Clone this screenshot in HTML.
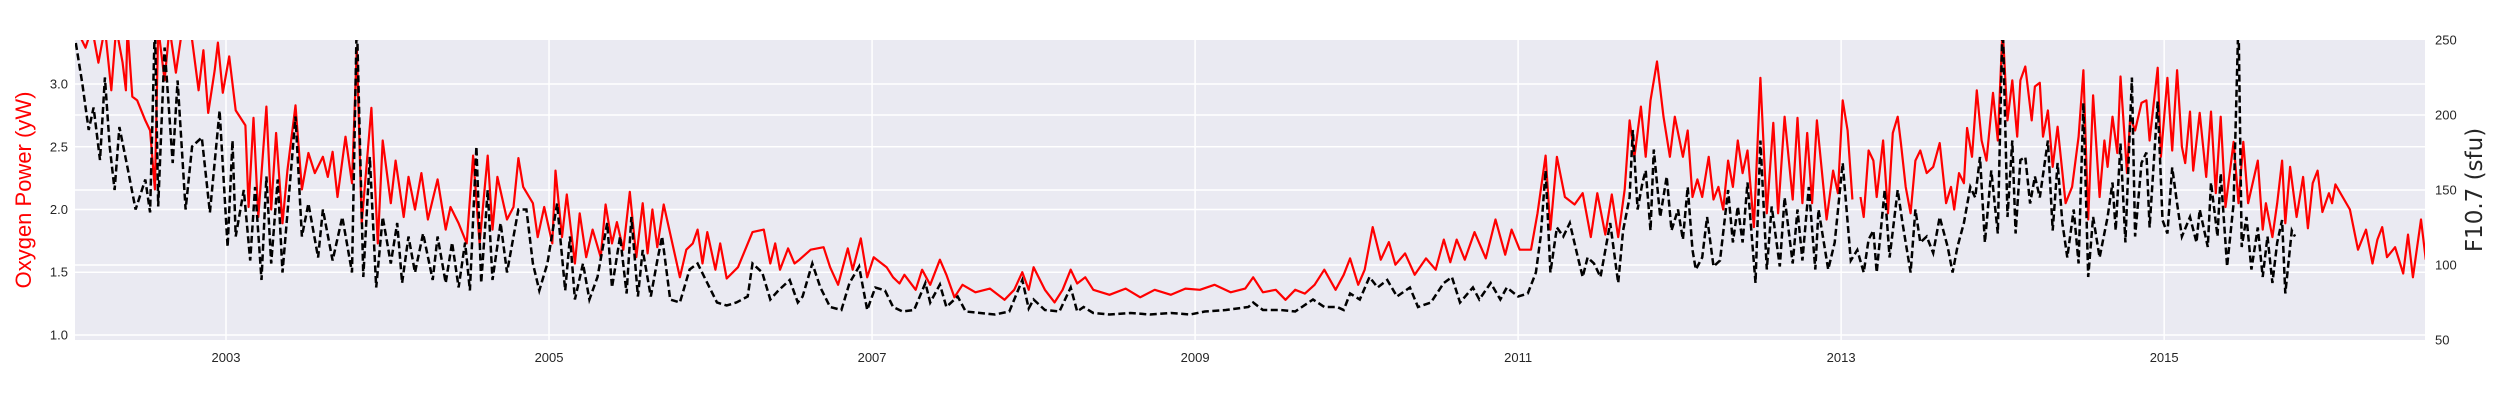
<!DOCTYPE html>
<html>
<head>
<meta charset="utf-8">
<style>
  html,body{margin:0;padding:0;background:#fff;}
  svg{display:block;}
  text{font-family:"Liberation Sans",Arial,sans-serif;}
</style>
</head>
<body>
<svg id="chart" width="2500" height="400" viewBox="0 0 2500 400" xmlns="http://www.w3.org/2000/svg">
  <defs>
    <clipPath id="plotClip"><rect x="75" y="40" width="2350" height="300"/></clipPath>
  </defs>
  <rect x="75" y="40" width="2350" height="300" fill="#eaeaf2"/>
  <g id="grid"></g>
  <g id="series" clip-path="url(#plotClip)"></g>
  <g id="axes"></g>
  <text x="0" y="0" transform="translate(31,190) rotate(-90)" text-anchor="middle" font-size="22" fill="#ff0000">Oxygen Power (yW)</text>
  <text x="0" y="0" transform="translate(2482,190) rotate(-90)" text-anchor="middle" font-size="23" fill="#262626" style="font-family:'DejaVu Sans',sans-serif">F10.7 (sfu)</text>
</svg>
<script>
// ---- data ----
const xTickYears = [2003, 2005, 2007, 2009, 2011, 2013, 2015];
const leftTicks = [1.0, 1.5, 2.0, 2.5, 3.0];
const leftTickLabels = ["1.0", "1.5", "2.0", "2.5", "3.0"];
const rightTicks = [50, 100, 150, 200, 250];
const rightTickLabels = ["50", "100", "150", "200", "250"];

const oxygenDates = [2002.07,2002.13,2002.17,2002.21,2002.25,2002.29,2002.32,2002.36,2002.38,2002.39,2002.42,2002.45,2002.50,2002.53,2002.56,2002.58,2002.62,2002.65,2002.69,2002.73,2002.78,2002.83,2002.86,2002.89,2002.93,2002.95,2002.98,2003.02,2003.06,2003.12,2003.14,2003.17,2003.20,2003.25,2003.28,2003.31,2003.35,2003.38,2003.43,2003.47,2003.51,2003.55,2003.60,2003.63,2003.66,2003.69,2003.74,2003.78,2003.81,2003.84,2003.90,2003.94,2003.97,2004.02,2004.05,2004.10,2004.13,2004.17,2004.21,2004.25,2004.31,2004.36,2004.39,2004.44,2004.49,2004.53,2004.57,2004.62,2004.65,2004.68,2004.74,2004.78,2004.81,2004.84,2004.90,2004.93,2004.97,2005.02,2005.04,2005.08,2005.11,2005.16,2005.19,2005.23,2005.27,2005.32,2005.35,2005.39,2005.42,2005.46,2005.50,2005.54,2005.58,2005.61,2005.64,2005.67,2005.71,2005.81,2005.85,2005.89,2005.92,2005.95,2005.98,2006.03,2006.06,2006.10,2006.17,2006.26,2006.33,2006.37,2006.40,2006.43,2006.48,2006.52,2006.55,2006.62,2006.70,2006.74,2006.79,2006.85,2006.88,2006.93,2006.97,2007.01,2007.09,2007.13,2007.17,2007.20,2007.27,2007.31,2007.36,2007.42,2007.46,2007.51,2007.56,2007.64,2007.73,2007.82,2007.88,2007.93,2007.97,2008.00,2008.07,2008.13,2008.18,2008.23,2008.27,2008.32,2008.37,2008.47,2008.57,2008.66,2008.75,2008.85,2008.94,2009.03,2009.12,2009.22,2009.31,2009.36,2009.42,2009.50,2009.56,2009.62,2009.68,2009.74,2009.80,2009.87,2009.92,2009.96,2010.01,2010.05,2010.10,2010.15,2010.20,2010.24,2010.30,2010.36,2010.43,2010.49,2010.54,2010.58,2010.62,2010.67,2010.73,2010.80,2010.86,2010.92,2010.96,2011.01,2011.08,2011.12,2011.17,2011.20,2011.24,2011.29,2011.35,2011.40,2011.45,2011.49,2011.54,2011.58,2011.62,2011.66,2011.69,2011.72,2011.76,2011.79,2011.82,2011.86,2011.90,2011.94,2011.97,2012.02,2012.05,2012.08,2012.11,2012.14,2012.18,2012.21,2012.24,2012.27,2012.30,2012.33,2012.36,2012.39,2012.42,2012.46,2012.50,2012.54,2012.58,2012.61,2012.65,2012.70,2012.73,2012.76,2012.79,2012.82,2012.85,2012.91,2012.95,2012.98,2013.01,2013.04,2013.07,2013.095,2013.12,2013.14,2013.17,2013.20,2013.22,2013.26,2013.29,2013.32,2013.35,2013.37,2013.40,2013.43,2013.46,2013.49,2013.53,2013.57,2013.61,2013.65,2013.68,2013.70,2013.73,2013.76,2013.78,2013.81,2013.84,2013.87,2013.90,2013.94,2013.97,2014.00,2014.03,2014.06,2014.09,2014.11,2014.14,2014.18,2014.20,2014.23,2014.25,2014.28,2014.31,2014.34,2014.39,2014.43,2014.47,2014.50,2014.53,2014.56,2014.60,2014.63,2014.65,2014.68,2014.71,2014.73,2014.77,2014.79,2014.82,2014.86,2014.89,2014.91,2014.96,2014.98,2015.02,2015.05,2015.08,2015.11,2015.13,2015.16,2015.18,2015.22,2015.26,2015.29,2015.32,2015.35,2015.38,2015.43,2015.46,2015.49,2015.52,2015.58,2015.61,2015.63,2015.67,2015.70,2015.73,2015.75,2015.78,2015.82,2015.86,2015.89,2015.92,2015.95,2015.98,2016.02,2016.04,2016.06,2016.15,2016.20,2016.25,2016.29,2016.32,2016.35,2016.38,2016.43,2016.48,2016.51,2016.54,2016.59,2016.62];
const oxygenPower = [3.45,3.29,3.45,3.17,3.45,2.95,3.45,3.17,2.95,3.45,2.90,2.87,2.71,2.63,2.16,3.45,3.03,3.45,3.09,3.45,3.45,2.95,3.27,2.77,3.11,3.33,2.93,3.22,2.79,2.67,2.02,2.73,1.94,2.82,2.00,2.61,1.89,2.31,2.83,2.16,2.45,2.29,2.42,2.26,2.46,2.10,2.58,2.21,3.29,1.89,2.81,1.73,2.55,2.05,2.39,1.94,2.26,2.00,2.29,1.92,2.24,1.84,2.02,1.89,1.73,2.43,1.73,2.43,1.84,2.26,1.92,2.02,2.41,2.18,2.05,1.78,2.02,1.73,2.31,1.78,2.12,1.57,1.97,1.62,1.84,1.62,2.04,1.73,1.90,1.68,2.14,1.62,2.05,1.65,2.00,1.70,2.04,1.46,1.68,1.73,1.84,1.57,1.82,1.52,1.73,1.45,1.54,1.82,1.84,1.57,1.73,1.52,1.69,1.57,1.60,1.68,1.70,1.54,1.40,1.69,1.52,1.77,1.46,1.62,1.54,1.46,1.41,1.48,1.36,1.52,1.40,1.60,1.48,1.30,1.40,1.34,1.37,1.28,1.36,1.50,1.36,1.54,1.36,1.26,1.36,1.52,1.41,1.46,1.36,1.32,1.37,1.30,1.36,1.32,1.37,1.36,1.40,1.34,1.37,1.46,1.34,1.36,1.28,1.36,1.33,1.40,1.52,1.36,1.48,1.61,1.40,1.52,1.86,1.60,1.74,1.56,1.65,1.48,1.61,1.52,1.76,1.58,1.76,1.60,1.82,1.61,1.92,1.64,1.84,1.68,1.68,1.97,2.43,1.84,2.42,2.10,2.04,2.13,1.78,2.13,1.80,2.12,1.78,2.16,2.71,2.42,2.82,2.42,2.87,3.18,2.74,2.42,2.74,2.42,2.63,2.10,2.24,2.10,2.42,2.08,2.18,2.00,2.39,2.18,2.55,2.29,2.47,1.86,3.05,1.97,2.69,1.97,2.74,2.08,2.73,2.05,2.61,2.05,2.71,1.92,2.31,2.13,2.87,2.63,2.08,null,2.10,1.94,2.47,2.39,2.10,2.55,1.97,2.61,2.74,2.53,2.18,1.97,2.39,2.47,2.29,2.34,2.53,2.05,2.18,2.00,2.29,2.21,2.65,2.42,2.95,2.55,2.39,2.93,2.55,3.45,2.71,3.03,2.58,3.03,3.14,2.71,2.98,3.01,2.58,2.79,2.34,2.66,2.05,2.18,2.58,3.11,1.92,2.91,2.10,2.55,2.34,2.74,2.45,3.06,2.29,2.74,2.63,2.85,2.87,2.55,3.13,2.42,3.05,2.47,3.11,2.50,2.37,2.78,2.31,2.77,2.26,2.78,2.13,2.74,2.02,2.54,2.05,2.54,2.05,2.39,1.84,2.05,1.78,2.05,2.39,1.89,2.34,1.94,2.26,1.85,2.21,2.31,1.98,2.13,2.05,2.20,2.00,1.68,1.84,1.57,1.76,1.86,1.62,1.70,1.49,1.80,1.46,1.92,1.60];

const f107Dates = [2002.07,2002.11,2002.15,2002.18,2002.22,2002.25,2002.28,2002.31,2002.34,2002.39,2002.44,2002.50,2002.53,2002.56,2002.58,2002.62,2002.67,2002.70,2002.75,2002.79,2002.85,2002.90,2002.96,2003.01,2003.04,2003.06,2003.11,2003.15,2003.18,2003.22,2003.25,2003.28,2003.32,2003.35,2003.43,2003.47,2003.51,2003.57,2003.60,2003.66,2003.72,2003.78,2003.81,2003.85,2003.89,2003.93,2003.97,2004.02,2004.06,2004.09,2004.13,2004.17,2004.22,2004.28,2004.31,2004.36,2004.40,2004.44,2004.48,2004.51,2004.55,2004.58,2004.62,2004.65,2004.70,2004.74,2004.81,2004.86,2004.90,2004.94,2004.99,2005.05,2005.10,2005.13,2005.16,2005.21,2005.25,2005.30,2005.36,2005.39,2005.44,2005.48,2005.51,2005.55,2005.58,2005.63,2005.67,2005.70,2005.75,2005.81,2005.87,2005.92,2005.98,2006.04,2006.10,2006.16,2006.23,2006.26,2006.32,2006.37,2006.42,2006.49,2006.54,2006.57,2006.63,2006.68,2006.74,2006.81,2006.86,2006.92,2006.97,2007.02,2007.08,2007.13,2007.19,2007.26,2007.33,2007.36,2007.42,2007.46,2007.53,2007.58,2007.67,2007.76,2007.85,2007.93,2007.97,2008.00,2008.07,2008.16,2008.23,2008.27,2008.31,2008.37,2008.47,2008.60,2008.72,2008.85,2008.97,2009.06,2009.19,2009.33,2009.36,2009.42,2009.53,2009.62,2009.73,2009.80,2009.88,2009.92,2009.96,2010.02,2010.08,2010.13,2010.19,2010.25,2010.33,2010.38,2010.46,2010.54,2010.59,2010.64,2010.72,2010.76,2010.83,2010.89,2010.93,2011.00,2011.06,2011.11,2011.14,2011.17,2011.20,2011.24,2011.28,2011.32,2011.37,2011.40,2011.43,2011.47,2011.51,2011.57,2011.62,2011.65,2011.69,2011.71,2011.74,2011.77,2011.79,2011.82,2011.84,2011.88,2011.92,2011.95,2011.99,2012.02,2012.05,2012.08,2012.10,2012.14,2012.17,2012.21,2012.25,2012.30,2012.33,2012.36,2012.39,2012.42,2012.47,2012.50,2012.54,2012.57,2012.62,2012.65,2012.70,2012.73,2012.76,2012.80,2012.84,2012.86,2012.92,2012.96,2013.01,2013.06,2013.10,2013.14,2013.17,2013.20,2013.22,2013.27,2013.30,2013.35,2013.38,2013.43,2013.46,2013.49,2013.53,2013.57,2013.61,2013.66,2013.69,2013.72,2013.76,2013.80,2013.83,2013.86,2013.89,2013.93,2013.94,2013.97,2014.00,2014.03,2014.06,2014.08,2014.11,2014.14,2014.17,2014.20,2014.23,2014.28,2014.31,2014.34,2014.37,2014.40,2014.44,2014.47,2014.50,2014.53,2014.56,2014.60,2014.65,2014.68,2014.70,2014.73,2014.76,2014.80,2014.82,2014.86,2014.89,2014.91,2014.96,2014.99,2015.02,2015.05,2015.08,2015.11,2015.16,2015.20,2015.22,2015.27,2015.29,2015.33,2015.35,2015.39,2015.43,2015.46,2015.48,2015.51,2015.54,2015.58,2015.61,2015.64,2015.67,2015.70,2015.73,2015.75,2015.79,2015.81];
const f107Flux = [248,221,190,205,170,225,179,150,192,165,137,157,135,262,139,245,168,223,137,179,185,135,203,112,183,119,150,103,152,90,159,101,157,95,199,119,141,105,137,103,132,95,265,92,172,85,132,101,128,88,119,95,121,90,119,88,115,85,115,83,179,88,150,90,128,95,137,137,101,83,101,141,83,119,77,101,77,92,128,85,119,81,132,79,110,79,103,119,77,75,97,101,88,75,73,75,79,101,95,77,83,90,75,79,101,85,72,70,88,99,70,85,83,72,69,70,88,75,87,72,79,69,68,67,69,90,71,77,70,69,85,69,72,68,67,68,67,68,67,69,70,72,75,70,70,69,77,72,72,70,81,77,92,85,90,79,85,72,75,88,92,75,85,77,88,77,85,79,81,95,119,163,95,125,119,128,105,92,105,101,92,128,88,123,145,190,137,155,163,123,177,132,159,123,137,117,152,110,97,105,132,99,103,150,115,139,115,155,88,183,97,139,99,145,101,137,103,152,97,137,97,115,168,103,110,95,117,123,95,150,105,150,128,95,137,115,119,108,132,112,95,112,128,152,145,172,115,163,152,121,265,132,183,121,170,172,141,159,145,183,123,168,128,105,137,101,208,92,132,105,132,155,123,181,115,225,119,168,175,125,209,130,121,165,141,119,132,115,137,112,155,119,161,99,141,265,112,132,97,125,92,119,88,115,130,81,123,119];

// ---- axes ----
const PL = 75, PR = 2425, PT = 40, PB = 340;
const X0 = 2002.065, X1 = 2016.615;
const L0 = 0.96, L1 = 3.351;      // left axis range (oxygen power)
const R0 = 50, R1 = 250;          // right axis range (F10.7)
const xScale = d => PL + (d - X0) / (X1 - X0) * (PR - PL);
const yLeft = v => PB - (v - L0) / (L1 - L0) * (PB - PT);
const yRight = v => PB - (v - R0) / (R1 - R0) * (PB - PT);

const NS = "http://www.w3.org/2000/svg";
const grid = document.getElementById('grid');
const axes = document.getElementById('axes');
const series = document.getElementById('series');
function mk(tag, attrs, parent) {
  const e = document.createElementNS(NS, tag);
  for (const k in attrs) e.setAttribute(k, attrs[k]);
  parent.appendChild(e);
  return e;
}

// vertical gridlines + x ticks
xTickYears.forEach((yr, i) => {
  const x = xScale(yr);
  const g = mk('line', {x1: x, x2: x, y1: PT, y2: PB, stroke: '#ffffff', 'stroke-width': 1.5}, grid);
  
  
  const t = mk('text', {x: x, y: 362, 'text-anchor': 'middle', 'font-size': 13, fill: '#262626'}, axes);
  t.textContent = String(yr);
  
  
});
// left gridlines + ticks
leftTicks.forEach((v, i) => {
  const y = yLeft(v);
  const g = mk('line', {x1: PL, x2: PR, y1: y, y2: y, stroke: '#ffffff', 'stroke-width': 1.5}, grid);
  
  
  const t = mk('text', {x: 68, y: y + 4.5, 'text-anchor': 'end', 'font-size': 13, fill: '#262626'}, axes);
  t.textContent = leftTickLabels[i];
  
  
});
// right gridlines + ticks
rightTicks.forEach((v, i) => {
  const y = yRight(v);
  if (v > R0 && v < R1) {
    const g = mk('line', {x1: PL, x2: PR, y1: y, y2: y, stroke: '#ffffff', 'stroke-width': 1.5}, grid);
    
    
  }
  const t = mk('text', {x: 2435, y: y + 4.5, 'text-anchor': 'start', 'font-size': 13, fill: '#262626'}, axes);
  t.textContent = rightTickLabels[i];
  
  
});

function pathFrom(dates, vals, yf) {
  let d = '', pen = false;
  for (let i = 0; i < dates.length; i++) {
    if (vals[i] === null) { pen = false; continue; }
    d += (pen ? 'L' : 'M') + xScale(dates[i]).toFixed(1) + ',' + yf(vals[i]).toFixed(1);
    pen = true;
  }
  return d;
}

const red = mk('path', {d: pathFrom(oxygenDates, oxygenPower, yLeft), fill: 'none', stroke: '#ff0000', 'stroke-width': 2.2, 'stroke-linejoin': 'round'}, series);



const blk = mk('path', {d: pathFrom(f107Dates, f107Flux, yRight), fill: 'none', stroke: '#000000', 'stroke-width': 2.5, 'stroke-dasharray': '7,3.5'}, series);


</script>
</body>
</html>
